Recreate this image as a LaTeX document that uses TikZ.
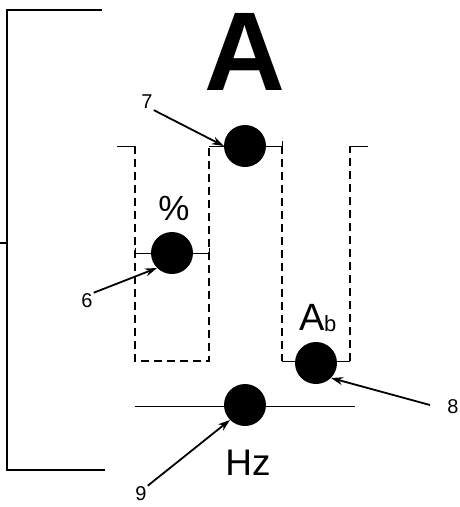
\documentclass[tikz,border=0pt]{standalone}
\usepackage{fontspec}
\setmainfont{Liberation Sans}
\usetikzlibrary{arrows.meta}
\begin{document}
\begin{tikzpicture}[x=1pt,y=-1pt,
  dot/.style={circle,fill=black,inner sep=0pt,minimum size=42pt},
  num/.style={inner sep=1pt,font=\fontsize{20}{20}\selectfont},
  frame/.style={line width=1.3pt},
  thin/.style={line width=1pt},
  dsh/.style={line width=1.1pt,dash pattern=on 8pt off 5pt},
  pointer/.style={line width=1.8pt,-{Stealth[length=12pt,width=8pt]}}]
\useasboundingbox (0,0) rectangle (460,507);
% left bracket
\draw[frame] (102,10) -- (7,10) -- (7,470) -- (105,470);
\draw[frame] (0,243) -- (7,243);
% big A
\node (bigA) at (245,52) {\fontsize{112}{112}\selectfont\bfseries A};
% dots
\node[dot] (d7) at (245,146) {};
\node[dot] (d6) at (172,253) {};
\node[dot] (d8) at (316,363) {};
\node[dot] (d9) at (245,405) {};
% left dashed box
\draw[thin] (117,146) -- (135,146);
\draw[dsh] (135,146) -- (135,361) -- (209,361) -- (209,146);
\draw[thin] (209,146) -- (d7);
\draw[thin] (135,253) -- (209,253);
\draw[thin] (135,248) -- (135,258) (209,248) -- (209,258);
% right dashed box
\draw[thin] (d7) -- (282,146);
\draw[thin] (282,141) -- (282,151);
\draw[dsh] (282,146) -- (282,361);
\draw[thin] (282,361) -- (350,361);
\draw[dsh] (350,361) -- (350,146);
\draw[thin] (350,146) -- (368,146);
% bottom line
\draw[thin] (135,406) -- (355,406);
% texts
\node (pct) at (174,208) {\fontsize{35}{35}\selectfont \%};
\node (ab) at (318,318) {\fontsize{38}{38}\selectfont A\kern-1pt\raisebox{-1pt}{\fontsize{22}{22}\selectfont b}};
\node (hz) at (248,463) {\fontsize{37}{37}\selectfont Hz};
% numbers
\node[num] (n7) at (147,102) {7};
\node[num] (n6) at (87,301) {6};
\node[num] (n8) at (453,407) {8};
\node[num] (n9) at (141,494) {9};
\coordinate (s8) at (430,405);
% arrows
\draw[pointer] (n7.south east) -- (d7.west);
\draw[pointer] (n6.north east) -- (d6.south west);
\draw[pointer] (s8) -- (d8.south east);
\draw[pointer] (n9.north east) -- (d9.south west);
\end{tikzpicture}
\end{document}
